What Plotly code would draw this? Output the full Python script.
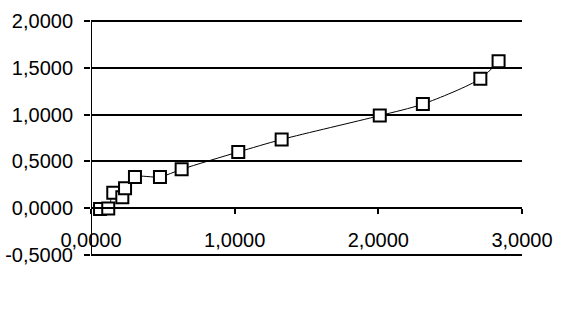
import plotly.graph_objects as go

x_vals = [0.063, 0.12, 0.155, 0.218, 0.237, 0.306, 0.48, 0.631, 1.025, 1.327, 2.01, 2.31, 2.71, 2.837]
y_vals = [-0.01, -0.005, 0.163, 0.114, 0.21, 0.333, 0.333, 0.415, 0.60, 0.734, 0.99, 1.114, 1.386, 1.574]

x_ticks = [0, 1, 2, 3]
x_labels = ["0,0000", "1,0000", "2,0000", "3,0000"]
y_ticks = [-0.5, 0, 0.5, 1.0, 1.5, 2.0]
y_labels = ["-0,5000", "0,0000", "0,5000", "1,0000", "1,5000", "2,0000"]

FONT = dict(family="Liberation Sans", size=20, color="black")

fig = go.Figure()
fig.add_trace(go.Scatter(
    x=x_vals, y=y_vals, mode="lines+markers",
    line=dict(color="black", width=1, shape="spline", smoothing=0.8),
    marker=dict(symbol="square", size=12, color="white",
                line=dict(color="black", width=2)),
    showlegend=False,
))

ymin, ymax = -0.515, 2.015
fig.update_layout(
    width=561, height=319,
    margin=dict(l=91, r=39, t=20, b=63),
    paper_bgcolor="white", plot_bgcolor="white",
    font=FONT,
    xaxis=dict(
        range=[0, 3], tickvals=x_ticks, ticktext=x_labels,
        showgrid=False, zeroline=False,
        showline=True, linecolor="black", linewidth=2,
        ticks="outside", ticklen=5, tickwidth=2, tickcolor="black",
        anchor="free", position=(0 - ymin) / (ymax - ymin),
        ticklabelstandoff=9, automargin=False,
        tickfont=FONT,
    ),
    yaxis=dict(
        range=[ymin, ymax], tickvals=y_ticks, ticktext=y_labels,
        showgrid=True, gridcolor="black", gridwidth=2,
        zeroline=False,
        showline=False,
        ticks="outside", ticklen=6, tickwidth=2, tickcolor="black",
        automargin=False, ticklabelstandoff=7,
        tickfont=FONT,
    ),
    shapes=[dict(type="line", xref="x", yref="y", x0=0, x1=0, y0=-0.5, y1=2.0,
                 line=dict(color="black", width=2), layer="above")],
)

fig.write_html("out.html")
